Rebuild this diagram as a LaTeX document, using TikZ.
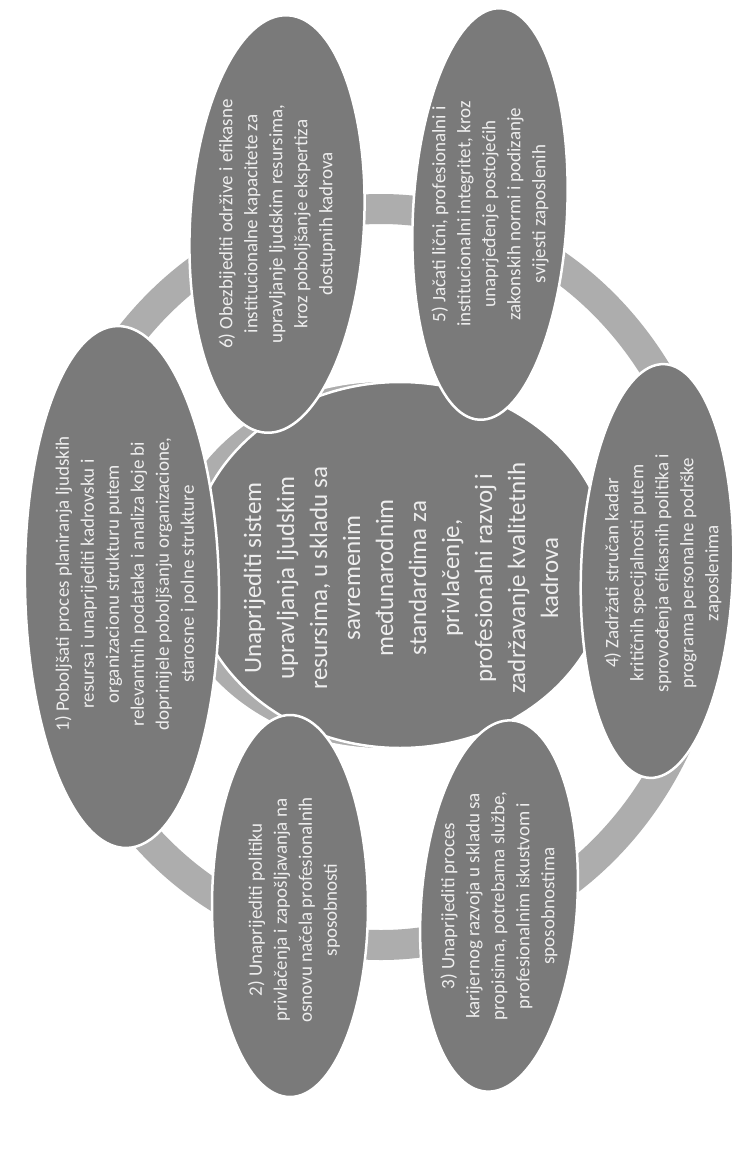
\documentclass[tikz,border=0pt]{standalone}
\usepackage{fontspec}
\setmainfont{Carlito}
\usetikzlibrary{shapes.geometric}
\definecolor{nodegray}{HTML}{7A7A7A}
\definecolor{ringgray}{HTML}{ADADAD}
\definecolor{txtgray}{HTML}{EEEEEE}
\begin{document}
\begin{tikzpicture}[x=1pt,y=-1pt,
  blob/.style={ellipse, fill=nodegray, draw=white, line width=2.5pt, inner sep=0pt},
  halo/.style={ellipse, fill=ringgray, draw=white, line width=2pt, inner sep=0pt},
  etext/.style={rotate=90, text=txtgray, align=center, inner sep=0pt, font=\fontsize{19}{25}\selectfont},
  ctext/.style={rotate=90, text=txtgray, align=center, inner sep=0pt, font=\fontsize{25}{33}\selectfont},
  ring/.style={draw=ringgray, line width=30pt}]
\useasboundingbox (0,0) rectangle (733,1151);
\fill[white] (0,0) rectangle (733,1151);
% ring behind everything
\path[ring] (381,577) ellipse [x radius=332, y radius=368];
% light band peeking out on the left of the centre
\node[halo, minimum width=434pt, minimum height=368pt] (h) at (384,565) {};
% centre
\node[blob, minimum width=420pt, minimum height=366pt] (c) at (400,565) {};
\node[ctext] (ct) at (401,578) {Unaprijediti sistem\\upravljanja ljudskim\\resursima, u skladu sa\\savremenim\\međunarodnim\\standardima za\\privlačenje,\\profesionalni razvoj i\\zadržavanje kvalitetnih\\kadrova};
% outer ellipses
\node[blob, rotate=91, minimum width=522pt, minimum height=194pt] (e1) at (122,587) {};
\node[etext] (t1) at (126,584) {1) Poboljšati proces planiranja ljudskih\\resursa i unaprijediti kadrovsku i\\organizacionu strukturu putem\\relevantnih podataka i analiza koje bi\\doprinijele poboljšanju organizacione,\\starosne i polne strukture};
\node[blob, rotate=90, minimum width=382pt, minimum height=156pt] (e2) at (290,906) {};
\node[etext] (t2) at (294,910) {2) Unaprijediti politiku\\privlačenja i zapošljavanja na\\osnovu načela profesionalnih\\sposobnosti};
\node[blob, rotate=86, minimum width=372pt, minimum height=156pt] (e3) at (499,906) {};
\node[etext] (t3) at (e3.center) {3) Unaprijediti proces\\karijernog razvoja u skladu sa\\propisima, potrebama službe,\\profesionalnim iskustvom i\\sposobnostima};
\node[blob, rotate=88, minimum width=414pt, minimum height=152pt] (e4) at (657,571) {};
\node[etext] (t4) at (663,573) {4) Zadržati stručan kadar\\kritičnih specijalnosti putem\\sprovođenja efikasnih politika i\\programa personalne podrške\\zaposlenima};
\node[blob, rotate=87, minimum width=412pt, minimum height=154pt] (e5) at (490,214) {};
\node[etext] (t5) at (e5.center) {5) Jačati lični, profesionalni i\\institucionalni integritet, kroz\\unaprjeđenje postojećih\\zakonskih normi i podizanje\\svijesti zaposlenih};
\node[blob, rotate=87, minimum width=418pt, minimum height=174pt] (e6) at (277,224) {};
\node[etext] (t6) at (e6.center) {6) Obezbijediti održive i efikasne\\institucionalne kapacitete za\\upravljanje ljudskim resursima,\\kroz poboljšanje ekspertiza\\dostupnih kadrova};
\end{tikzpicture}
\end{document}
